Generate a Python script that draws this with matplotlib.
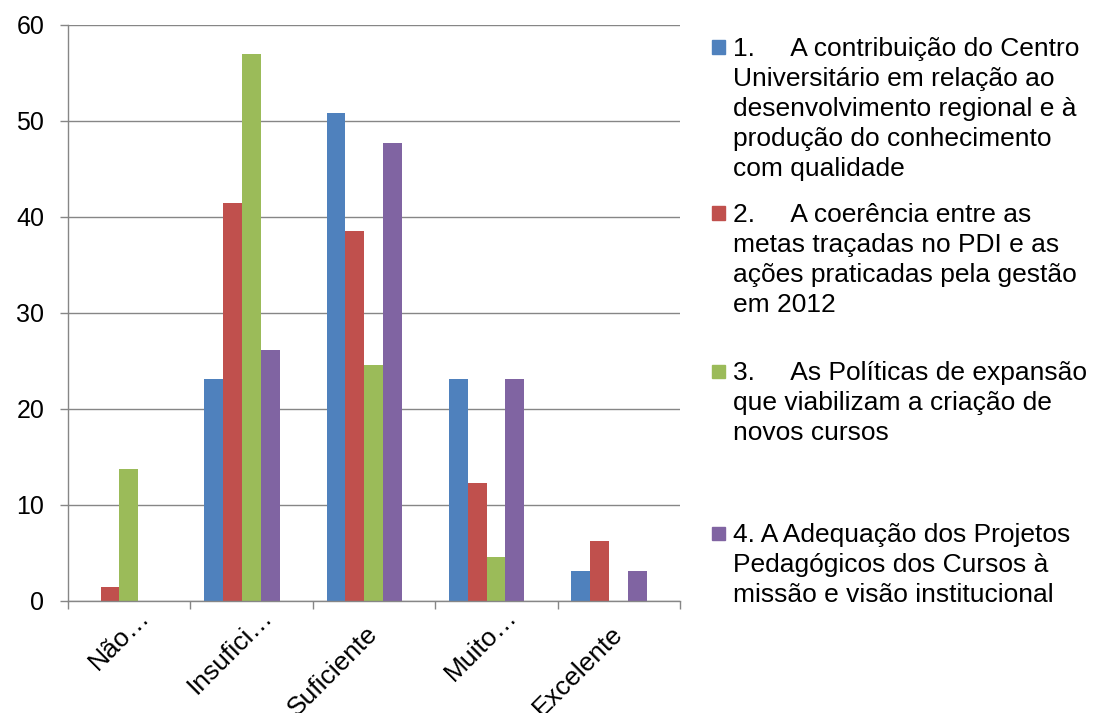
import matplotlib
matplotlib.use("Agg")
import matplotlib.pyplot as plt
from matplotlib.transforms import ScaledTranslation
from matplotlib.patches import Rectangle

plt.rcParams['font.family'] = ['Liberation Sans', 'DejaVu Sans']

categories = ['Não…', 'Insufici…', 'Suficiente', 'Muito…', 'Excelente']
series_names = [
    '1.     A contribuição do Centro\nUniversitário em relação ao\ndesenvolvimento regional e à\nprodução do conhecimento\ncom qualidade',
    '2.     A coerência entre as\nmetas traçadas no PDI e as\nações praticadas pela gestão\nem 2012',
    '3.     As Políticas de expansão\nque viabilizam a criação de\nnovos cursos',
    '4. A Adequação dos Projetos\nPedagógicos dos Cursos à\nmissão e visão institucional',
]
s1 = [0, 23.1, 50.8, 23.1, 3.1]
s2 = [1.5, 41.5, 38.5, 12.3, 6.2]
s3 = [13.8, 57.0, 24.6, 4.6, 0]
s4 = [0, 26.1, 47.7, 23.1, 3.1]
series = [s1, s2, s3, s4]
colors = ['#4F81BD', '#C0504D', '#9BBB59', '#8064A2']
yticks = [0, 10, 20, 30, 40, 50, 60]

grey = '#868686'
fig = plt.figure(figsize=(10.95, 7.13), dpi=100)
ax = fig.add_axes([68/1095, 112/713, 612/1095, 576/713])

bw = 0.154
shift = -0.08
for j, vals in enumerate(series):
    xs = [i + shift + (j - 1.5) * bw for i in range(len(categories))]
    ax.bar(xs, vals, width=bw, color=colors[j], linewidth=0, zorder=3)

ax.set_xlim(-0.5, len(categories) - 0.5)
ax.set_ylim(0, 60)
ax.set_yticks(yticks)
ax.set_xticks([i - 0.5 for i in range(len(categories) + 1)])
ax.set_xticklabels([])
ax.tick_params(axis='x', direction='out', length=5.8, width=1, color=grey)
ax.tick_params(axis='y', direction='out', length=6, width=1, color=grey,
               labelsize=18, pad=11)
ax.yaxis.grid(True, color=grey, linewidth=1, zorder=0)
for sp in ['top', 'right']:
    ax.spines[sp].set_visible(False)
for sp in ['left', 'bottom']:
    ax.spines[sp].set_color(grey)
    ax.spines[sp].set_linewidth(1)
ax.spines['bottom'].set_zorder(4)

# rotated category labels (truncated ones sit higher, like excel)
for i, lab in enumerate(categories):
    if lab.endswith('…'):
        dx, dy = 22, -17
    else:
        dx, dy = 5, -34
    tr = ax.get_xaxis_transform() + ScaledTranslation(dx/100, dy/100, fig.dpi_scale_trans)
    ax.text(i, 0, lab, transform=tr, rotation=45, rotation_mode='anchor',
            ha='right', va='baseline', fontsize=19)

# legend drawn by hand, first-line centres in pixels from top
leg_mid = [47, 213, 371, 533]
line_h = 30
for k, name in enumerate(series_names):
    ym = leg_mid[k]
    fig.patches.append(Rectangle((712/1095, 1 - (ym + 6.5)/713), 13/1095, 13/713,
                                 transform=fig.transFigure, color=colors[k]))
    for n, line in enumerate(name.split('\n')):
        fig.text(733/1095, 1 - (ym + 9 + n * line_h)/713, line, fontsize=19,
                 va='baseline', ha='left')

fig.savefig('out.png', dpi=100)
